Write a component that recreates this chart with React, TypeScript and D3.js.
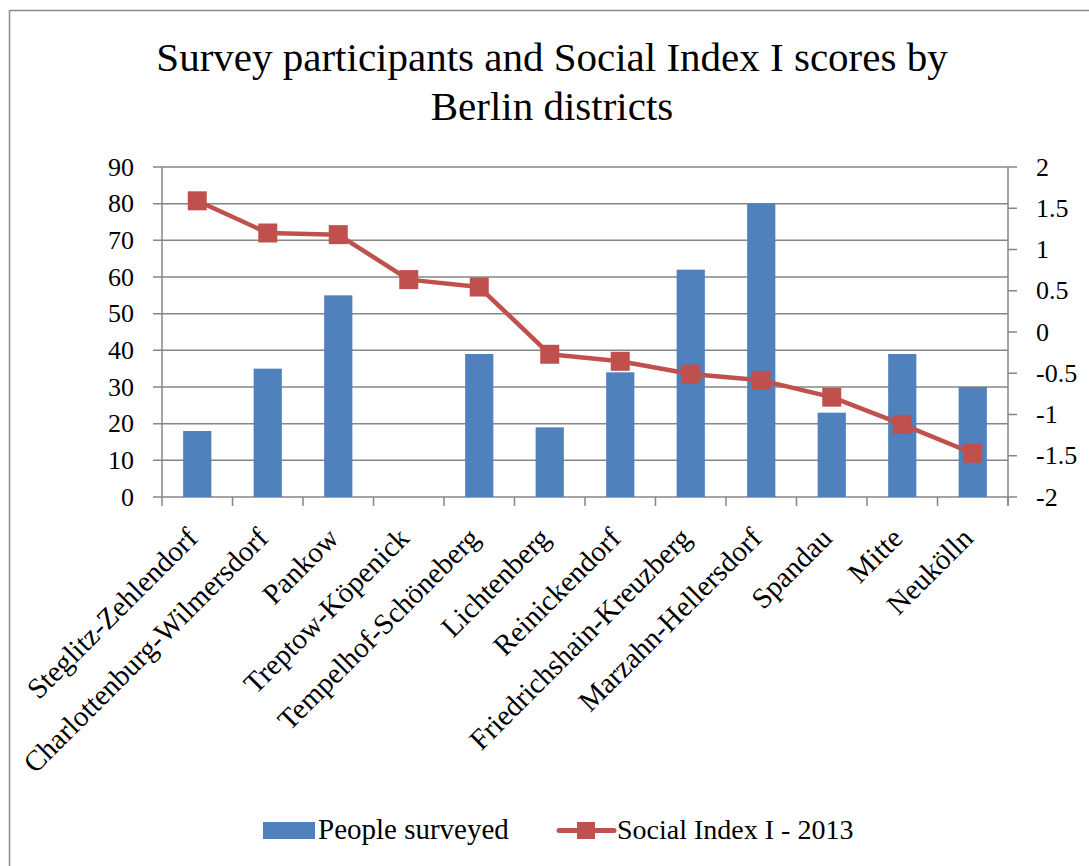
import React from "react";
import * as d3 from "d3";

const categories = [
  "Steglitz-Zehlendorf",
  "Charlottenburg-Wilmersdorf",
  "Pankow",
  "Treptow-Köpenick",
  "Tempelhof-Schöneberg",
  "Lichtenberg",
  "Reinickendorf",
  "Friedrichshain-Kreuzberg",
  "Marzahn-Hellersdorf",
  "Spandau",
  "Mitte",
  "Neukölln",
];
const peopleSurveyed = [18, 35, 55, 0, 39, 19, 34, 62, 80, 23, 39, 30];
const socialIndex = [1.59, 1.2, 1.18, 0.635, 0.545, -0.27, -0.355, -0.51, -0.585, -0.79, -1.12, -1.47];
const leftTicks = [0, 10, 20, 30, 40, 50, 60, 70, 80, 90];
const rightTicks = [-2, -1.5, -1, -0.5, 0, 0.5, 1, 1.5, 2];
const titleLines = ["Survey participants and Social Index I scores by", "Berlin districts"];
const legendLabels = ["People surveyed", "Social Index I - 2013"];

const W = 1089;
const H = 866;
const L = 162;
const R = 1008;
const T = 167;
const B = 497;
const FONT = "'Liberation Serif', 'Times New Roman', serif";
const BLUE = "#4F81BD";
const RED = "#C0504D";
const GRID = "#868686";

export default function App() {
  const x = d3.scaleBand<string>().domain(categories).range([L, R]).paddingInner(0.6).paddingOuter(0.3);
  const band = d3.scaleBand<string>().domain(categories).range([L, R]);
  const yL = d3.scaleLinear().domain([0, 90]).range([B, T]);
  const yR = d3.scaleLinear().domain([-2, 2]).range([B, T]);
  const cxOf = (c: string) => (band(c) as number) + band.bandwidth() / 2;
  const line = d3
    .line<number>()
    .x((_, i) => cxOf(categories[i]))
    .y((d) => yR(d));
  const step = band.step();
  const boundaries = d3.range(categories.length + 1).map((i) => L + i * step);

  return (
    <svg width={W} height={H} style={{ position: "absolute", left: 0, top: 0 }} fontFamily={FONT}>
      <rect x={0} y={0} width={W} height={H} fill="#fff" />
      <path d={`M9.5,${H} V10.5 H${W}`} fill="none" stroke="#8c8c8c" strokeWidth={1.5} />
      {titleLines.map((t, i) => (
        <text key={i} x={552} y={71 + i * 49} textAnchor="middle" fontSize={41} fill="#000">
          {t}
        </text>
      ))}
      {/* gridlines */}
      {leftTicks.map((t) => (
        <line key={t} x1={L - 9} x2={R} y1={yL(t)} y2={yL(t)} stroke={GRID} strokeWidth={1.5} />
      ))}
      {rightTicks.map((t) => (
        <line key={t} x1={R} x2={R + 9} y1={yR(t)} y2={yR(t)} stroke={GRID} strokeWidth={1.5} />
      ))}
      {/* axes */}
      <line x1={L} x2={L} y1={T} y2={B} stroke={GRID} strokeWidth={1.5} />
      <line x1={R} x2={R} y1={T} y2={B + 9} stroke={GRID} strokeWidth={1.5} />
      {boundaries.map((bx, i) => (
        <line key={i} x1={bx} x2={bx} y1={B} y2={B + 9} stroke={GRID} strokeWidth={1.5} />
      ))}
      {/* bars */}
      {categories.map((c, i) => (
        <rect
          key={c}
          x={x(c)}
          y={yL(peopleSurveyed[i])}
          width={x.bandwidth()}
          height={B - yL(peopleSurveyed[i])}
          fill={BLUE}
        />
      ))}
      {/* line */}
      <path d={line(socialIndex) || ""} fill="none" stroke={RED} strokeWidth={4.5} strokeLinejoin="round" />
      {socialIndex.map((v, i) => {
        const cx = cxOf(categories[i]);
        return <rect key={i} x={cx - 9.5} y={yR(v) - 9.5} width={19} height={19} fill={RED} />;
      })}
      {/* tick labels */}
      {leftTicks.map((t) => (
        <text key={t} x={134} y={yL(t) + 8.5} textAnchor="end" fontSize={26} fill="#000">
          {t}
        </text>
      ))}
      {rightTicks.map((t) => (
        <text key={t} x={1036} y={yR(t) + 8.5} textAnchor="start" fontSize={26} fill="#000">
          {t}
        </text>
      ))}
      {/* x labels */}
      {categories.map((c) => {
        const cx = cxOf(c) + 2;
        const cy = 540;
        return (
          <text
            key={c}
            x={cx}
            y={cy}
            transform={`rotate(-45, ${cx}, ${cy})`}
            textAnchor="end"
            fontSize={29}
            fill="#000"
          >
            {c}
          </text>
        );
      })}
      {/* legend */}
      <rect x={263} y={822} width={52} height={17} fill={BLUE} />
      <text x={318} y={839} fontSize={29} fill="#000">
        {legendLabels[0]}
      </text>
      <line x1={559} x2={614} y1={830.5} y2={830.5} stroke={RED} strokeWidth={5} strokeLinecap="round" />
      <rect x={577} y={822} width={18} height={17} fill={RED} />
      <text x={617} y={839} fontSize={28} fill="#000">
        {legendLabels[1]}
      </text>
    </svg>
  );
}
